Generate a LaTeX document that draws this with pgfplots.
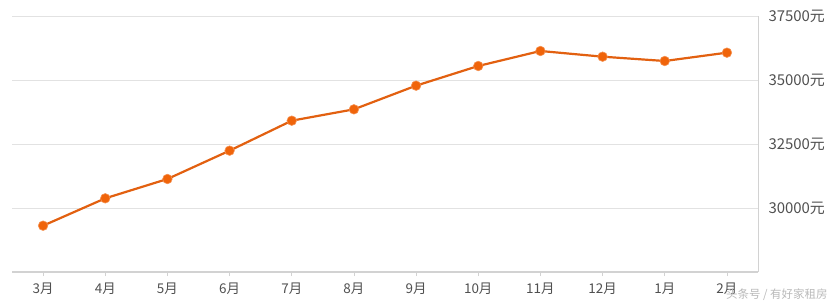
\documentclass[border=0pt]{standalone}
\usepackage{pgfplots}
\pgfplotsset{compat=1.18}
\usepackage{fontspec}
\setmainfont{Noto Sans CJK SC}
\definecolor{lineor}{RGB}{226,96,16}
\definecolor{markor}{RGB}{240,100,10}
\definecolor{gridc}{RGB}{226,226,226}
\definecolor{axisc}{RGB}{210,210,210}
\definecolor{labc}{RGB}{80,80,80}
\begin{document}
\begin{tikzpicture}
\begin{axis}[
  scale only axis, width=746bp, height=256bp,
  xmin=-0.5, xmax=11.5, ymin=27500, ymax=37500,
  scaled y ticks=false,
  axis line style={draw=none},
  xtick={0,...,11},
  xticklabels={3月,4月,5月,6月,7月,8月,9月,10月,11月,12月,1月,2月},
  ytick={30000,32500,35000,37500},
  yticklabels={30000元,32500元,35000元,37500元},
  xtick pos=bottom, ytick pos=right,
  yticklabel pos=right,
  xtick align=outside,
  major tick length=4bp,
  xtick style={draw=axisc, line width=0.8bp},
  ytick style={draw=none},
  ymajorgrids, grid style={draw=gridc, line width=0.9bp},
  xticklabel style={font=\fontsize{13.5}{15}\selectfont, text=labc, yshift=-3bp},
  yticklabel style={font=\fontsize{15}{17}\selectfont, text=labc, anchor=west, xshift=7bp},
  clip=false,
]
\draw[draw=axisc, line width=0.9bp] (rel axis cs:1,0) -- (rel axis cs:1,1);
\draw[draw=axisc, line width=2bp] (rel axis cs:0,0) -- (rel axis cs:1,0);
\addplot[color=lineor, line width=2.2bp, mark=*, mark size=4.8bp,
  mark options={fill=markor, draw=markor!70!white, line width=0.6bp}]
  coordinates {
  (0,29309) (1,30378) (2,31133) (3,32240) (4,33411) (5,33854)
  (6,34779) (7,35547) (8,36133) (9,35911) (10,35742) (11,36068)
  };
\end{axis}
\node[anchor=east, text=gray!55, font=\fontsize{11.5}{13}\selectfont]
  at ([xshift=73bp,yshift=-23bp]current axis.south east) {头条号 / 有好家租房};
\pgfresetboundingbox
\path[use as bounding box] ([xshift=-12bp,yshift=-33bp]current axis.south west)
  rectangle ([xshift=79bp,yshift=16bp]current axis.north east);
\end{tikzpicture}
\end{document}
